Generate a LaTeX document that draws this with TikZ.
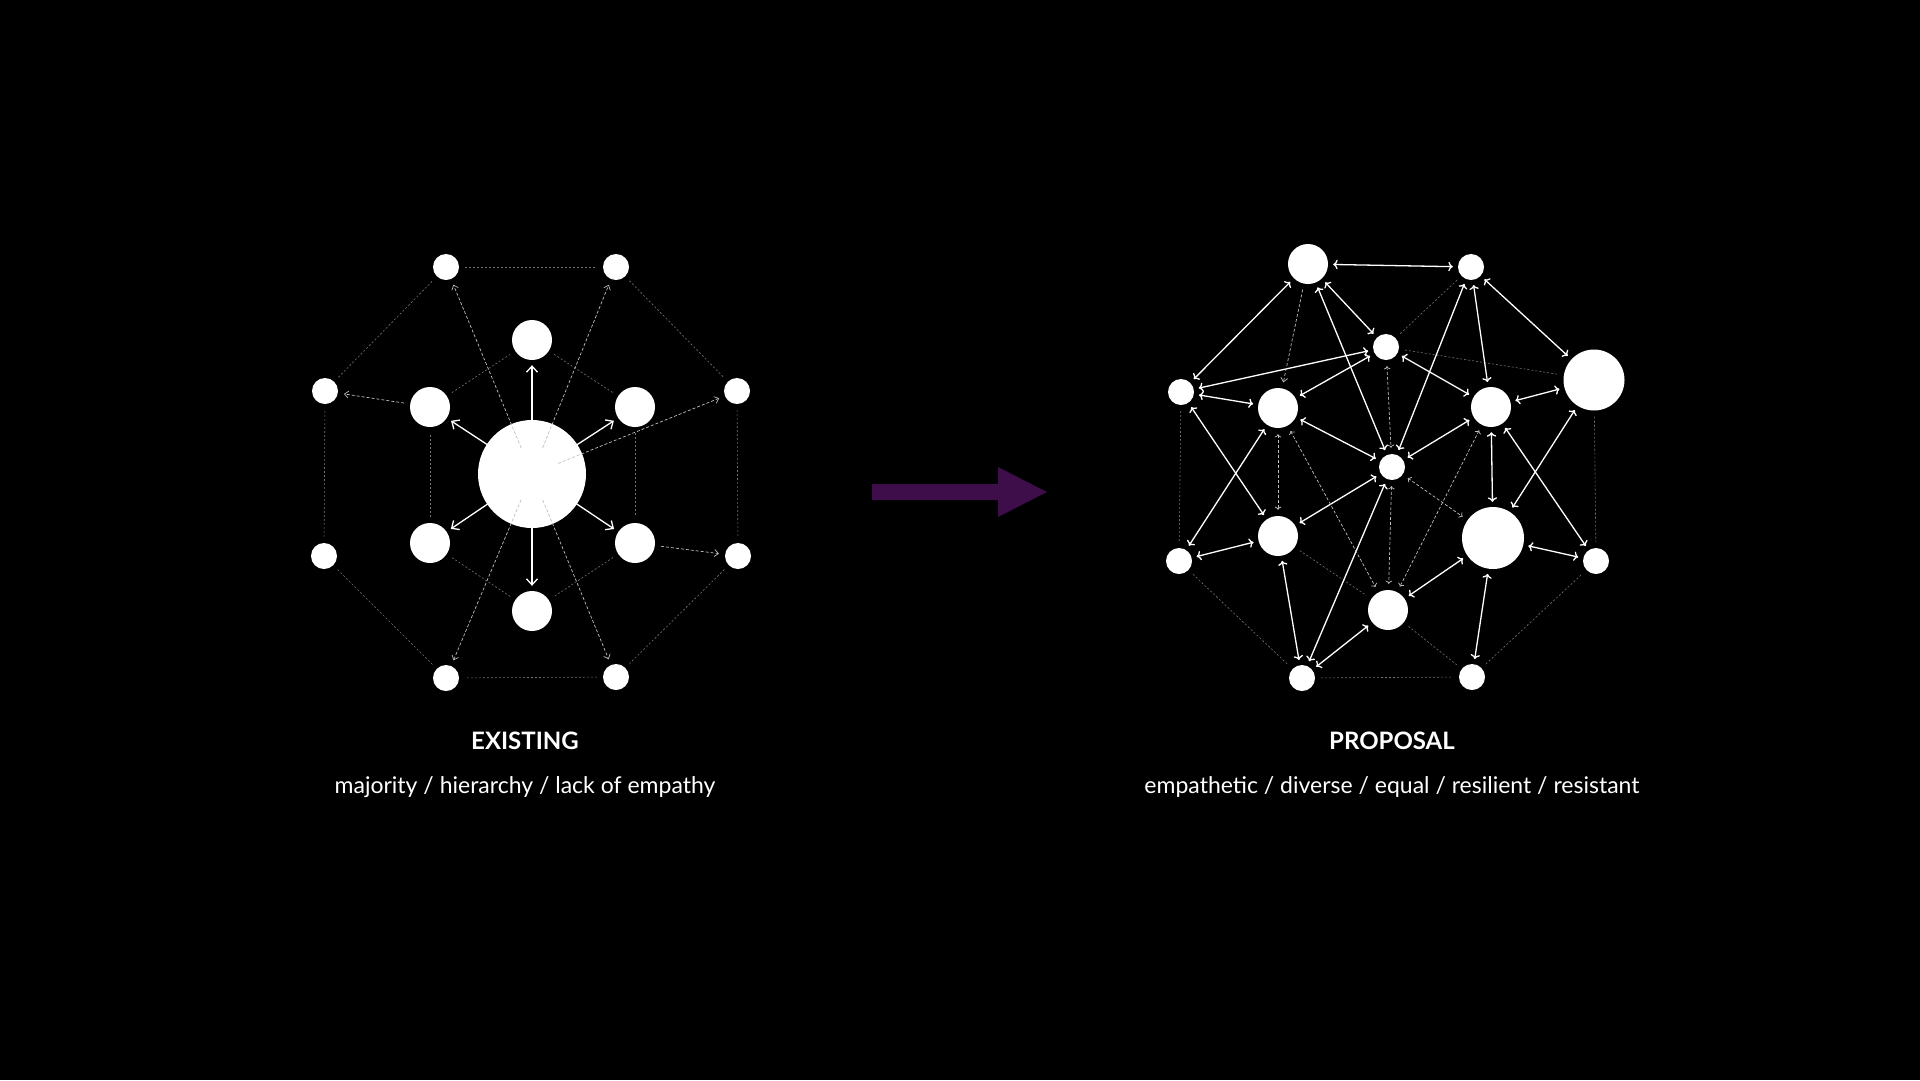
\documentclass[tikz,border=0pt]{standalone}
\usepackage{fontspec}
\setmainfont{Lato}
\usetikzlibrary{arrows.meta}
\begin{document}
\begin{tikzpicture}[x=1pt,y=-1pt,
  dot/.style={circle,fill=white,inner sep=0pt,minimum size=#1},
  sarr/.style={draw=white,line width=1.3pt,-{Straight Barb[length=6pt,width=11pt]},shorten >=5pt,shorten <=5pt},
  darr/.style={sarr,<->},
  darrs/.style={draw=white!75!black,line width=0.7pt,dash pattern=on 3pt off 2pt,-{Straight Barb[length=4pt,width=7pt]},shorten >=6pt,shorten <=6pt},
  ddarr/.style={darrs,<->},
  outl/.style={draw=white!45!black,line width=0.6pt,dash pattern=on 2pt off 2pt,shorten >=6pt,shorten <=6pt},
  ttl/.style={text=white,font=\bfseries\fontsize{24}{28}\selectfont},
  sub/.style={text=white,font=\fontsize{23}{28}\selectfont}]
\fill[black] (0,0) rectangle (1920,1080);
\useasboundingbox (0,0) rectangle (1920,1080);
% ---------- EXISTING ----------
\node[dot=54pt] (c) at (532,474) {};
\node[dot=40pt] (it) at (532,340) {};
\node[dot=40pt] (iul) at (430,407) {};
\node[dot=40pt] (iur) at (635,407) {};
\node[dot=40pt] (ill) at (430,543) {};
\node[dot=40pt] (ilr) at (635,543) {};
\node[dot=40pt] (ib) at (532,611) {};
\node[dot=26pt] (otl) at (446,267) {};
\node[dot=26pt] (otr) at (616,267) {};
\node[dot=26pt] (olu) at (325,391) {};
\node[dot=26pt] (oru) at (737,391) {};
\node[dot=26pt] (oll) at (324,556) {};
\node[dot=26pt] (orl) at (738,556) {};
\node[dot=26pt] (obl) at (446,678) {};
\node[dot=26pt] (obr) at (616,677) {};
\node[dot=108pt] at (c) {};
\foreach \a/\b in {otl/otr,otr/oru,oru/orl,orl/obr,obr/obl,obl/oll,oll/olu,olu/otl,it/iur,iur/ilr,ilr/ib,ib/ill,ill/iul,iul/it}
  \draw[outl] (\a) -- (\b);
\foreach \t in {it,iul,iur,ill,ilr,ib}
  \draw[sarr,shorten <=1pt] (c) -- (\t);
\draw[darrs,shorten <=1pt] (c) -- (otl);
\draw[darrs,shorten <=1pt] (c) -- (otr);
\draw[darrs,shorten <=1pt] (c) -- (oru);
\draw[darrs,shorten <=1pt] (c) -- (obl);
\draw[darrs,shorten <=1pt] (c) -- (obr);
\draw[darrs] (iul) -- (olu);
\draw[darrs] (ilr) -- (orl);
\node[ttl] (t1) at (525,741) {EXISTING};
\node[sub] (s1) at (525,787) {majority / hierarchy / lack of empathy};
% ---------- arrow ----------
\coordinate (pa) at (872,492);
\coordinate (pb) at (1047,492);
\draw[draw=none,fill={rgb,255:red,62;green,14;blue,75}]
  (872,484) -- (998,484) -- (998,467) -- (1047,492) -- (998,517) -- (998,500) -- (872,500) -- cycle;
% ---------- PROPOSAL ----------
\node[dot=40pt] (A) at (1308,264) {};
\node[dot=26pt] (B) at (1471,267) {};
\node[dot=26pt] (C) at (1386,347) {};
\node[dot=26pt] (D) at (1181,392) {};
\node[dot=40pt] (E) at (1278,408) {};
\node[dot=40pt] (F) at (1491,407) {};
\node[dot=61pt] (G) at (1594,380) {};
\node[dot=26pt] (H) at (1392,467) {};
\node[dot=40pt] (I) at (1278,536) {};
\node[dot=62pt] (J) at (1493,538) {};
\node[dot=26pt] (K) at (1179,561) {};
\node[dot=26pt] (L) at (1596,561) {};
\node[dot=40pt] (M) at (1388,610) {};
\node[dot=26pt] (N) at (1302,678) {};
\node[dot=26pt] (O) at (1472,677) {};
\foreach \a/\b in {D/K,G/L,K/N,N/O,O/L,B/C,C/G,I/M,M/O}
  \draw[outl] (\a) -- (\b);
\foreach \a/\b in {A/B,A/D,A/C,A/H,B/G,B/F,B/H,D/C,E/C,D/E,D/I,K/E,K/I,E/H,I/H,C/F,F/H,F/G,F/J,F/L,G/J,J/L,J/M,O/J,I/N,N/M,H/N}
  \draw[darr] (\a) -- (\b);
\draw[darrs] (A) -- (E);
\foreach \a/\b in {C/H,E/I,E/M,H/M,F/M,H/J}
  \draw[ddarr] (\a) -- (\b);
\node[ttl] (t2) at (1392,741) {PROPOSAL};
\node[sub] (s2) at (1392,787) {empathetic / diverse / equal / resilient / resistant};
\end{tikzpicture}
\end{document}
